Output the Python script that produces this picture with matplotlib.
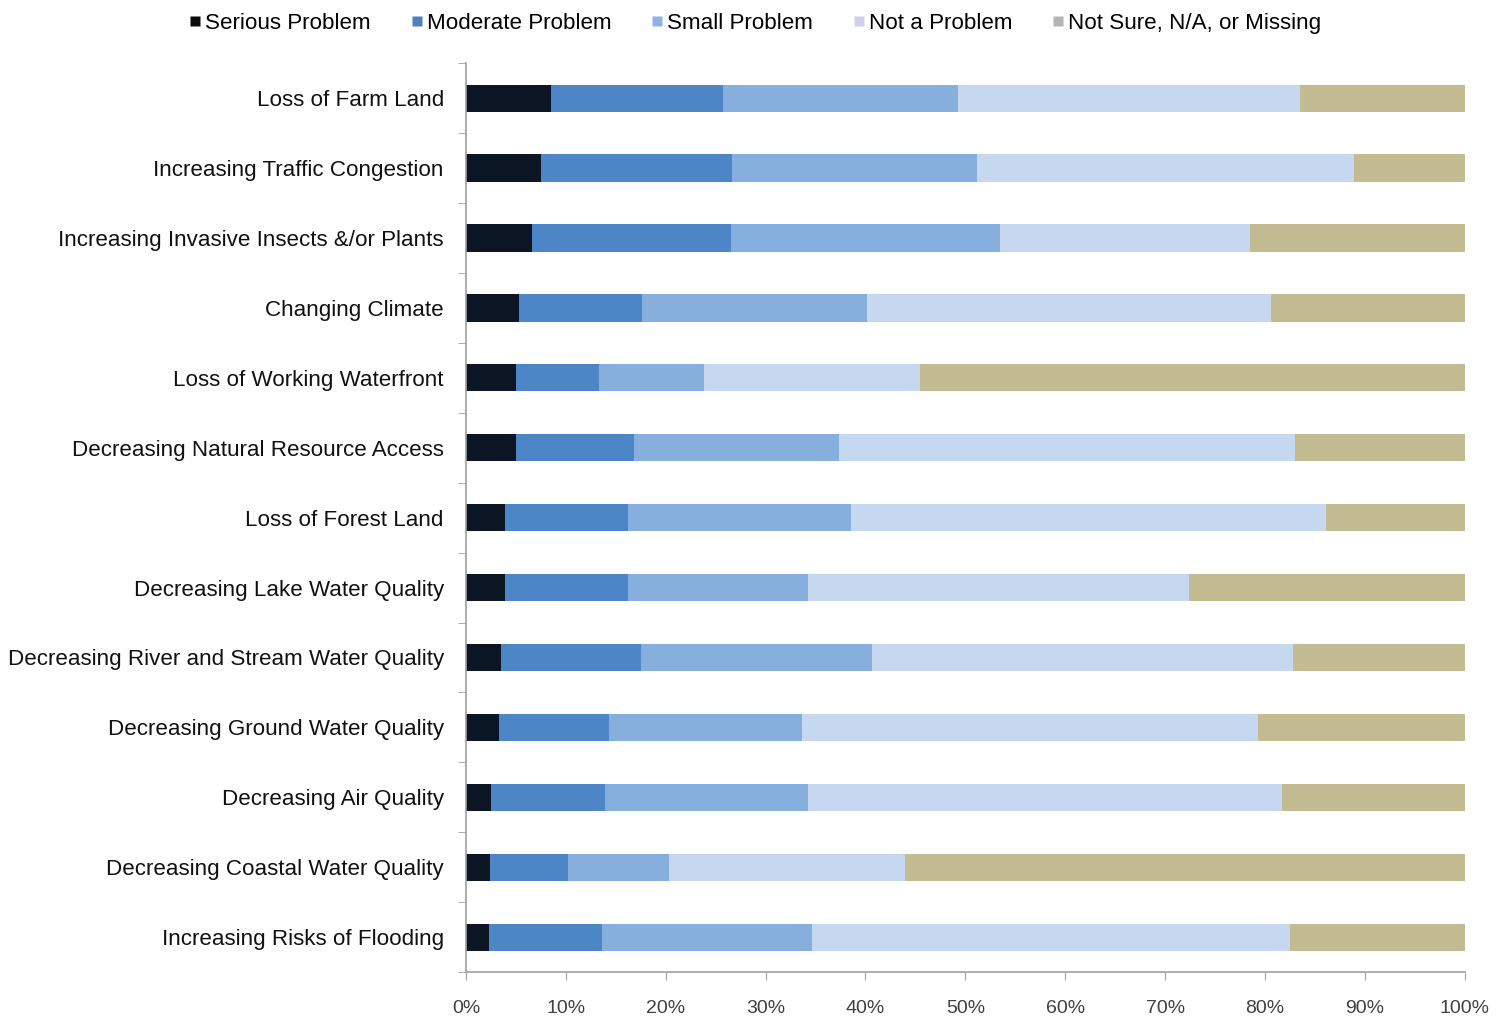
import matplotlib
matplotlib.use("Agg")
import matplotlib.pyplot as plt
import numpy as np
from matplotlib.lines import Line2D
from matplotlib.ticker import FixedLocator, PercentFormatter

plt.rcParams["font.family"] = ["Liberation Sans", "DejaVu Sans"]

categories = [
    "Loss of Farm Land",
    "Increasing Traffic Congestion",
    "Increasing Invasive Insects &/or Plants",
    "Changing Climate",
    "Loss of Working Waterfront",
    "Decreasing Natural Resource Access",
    "Loss of Forest Land",
    "Decreasing Lake Water Quality",
    "Decreasing River and Stream Water Quality",
    "Decreasing Ground Water Quality",
    "Decreasing Air Quality",
    "Decreasing Coastal Water Quality",
    "Increasing Risks of Flooding",
]

# percent of respondents in each response group
serious = [8.5, 7.5, 6.6, 5.3, 5.0, 5.0, 3.9, 3.9, 3.5, 3.3, 2.5, 2.4, 2.3]
moderate = [17.2, 19.1, 19.9, 12.3, 8.3, 11.8, 12.3, 12.3, 14.0, 11.0, 11.4, 7.8, 11.3]
small = [23.6, 24.6, 27.0, 22.6, 10.5, 20.5, 22.4, 18.0, 23.2, 19.3, 20.3, 10.1, 21.0]
not_problem = [34.2, 37.7, 25.0, 40.4, 21.7, 45.7, 47.5, 38.2, 42.1, 45.7, 47.5, 23.7, 47.9]
not_sure = [16.5, 11.1, 21.5, 19.4, 54.5, 17.0, 13.9, 27.6, 17.2, 20.7, 18.3, 56.0, 17.5]

series = [
    ("Serious Problem", serious, "#0b1524", "#0b0b0b"),
    ("Moderate Problem", moderate, "#4d86c6", "#4f81bd"),
    ("Small Problem", small, "#87afde", "#8db3e2"),
    ("Not a Problem", not_problem, "#c6d8ef", "#cfd0ea"),
    ("Not Sure, N/A, or Missing", not_sure, "#c3bb92", "#b3b3b3"),
]

fig = plt.figure(figsize=(15.1, 10.19), dpi=100)
ax = fig.add_axes([0.3086, 0.046, 0.6614, 0.892])

y = np.arange(len(categories))
left = np.zeros(len(categories))
handles = []
for label, values, color, swatch in series:
    vals = np.array(values)
    ax.barh(y, vals, left=left, height=0.39, color=color, edgecolor="none")
    left += vals
    handles.append(Line2D([], [], linestyle="none", marker="s", markersize=7,
                          markerfacecolor=swatch, markeredgecolor="none", label=label))

ax.set_ylim(len(categories) - 0.5, -0.5)
ax.set_xlim(0, 100)
ax.set_yticks(y)
ax.set_yticklabels(categories, fontsize=16.1, color="#111111")
ax.yaxis.set_minor_locator(FixedLocator(np.arange(-0.5, len(categories), 1.0)))
ax.tick_params(axis="y", which="major", length=0, pad=16)
ax.tick_params(axis="y", which="minor", length=6, color="#a0a0a0", direction="out")

ax.set_xticks(np.arange(0, 101, 10))
ax.xaxis.set_major_formatter(PercentFormatter(decimals=0))
ax.tick_params(axis="x", length=6, color="#a0a0a0", labelsize=14,
               labelcolor="#404040", pad=14)

for side in ("top", "right"):
    ax.spines[side].set_visible(False)
for side in ("left", "bottom"):
    ax.spines[side].set_color("#a0a0a0")
    ax.spines[side].set_linewidth(1.2)

fig.legend(handles=handles, loc="upper center", bbox_to_anchor=(0.500, 1.007),
           ncol=5, frameon=False, fontsize=16.1, handlelength=0.6,
           handletextpad=0.15, columnspacing=1.75)

fig.savefig("out.png", dpi=100)
